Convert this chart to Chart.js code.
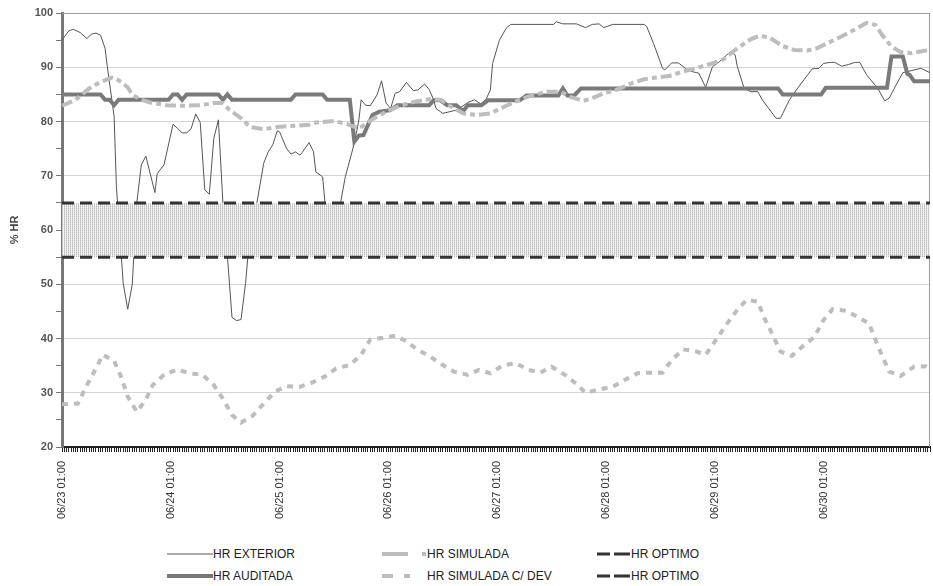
<!DOCTYPE html>
<html>
<head>
<meta charset="utf-8">
<title>% HR</title>
<script src="https://cdn.jsdelivr.net/npm/chart.js@4.4.1/dist/chart.umd.min.js"></script>
<style>
  body { margin: 0; background: #fff; font-family: "Liberation Sans", Arial, sans-serif; }
  #wrap { position: relative; width: 933px; height: 586px; }
  #box { position: absolute; left: 0; top: 0; width: 933px; height: 540px; }
  .key { position: absolute; font-size: 12px; line-height: 14px; color: #222; white-space: nowrap; }
  .key svg { position: absolute; left: 0; top: 4px; }
</style>
</head>
<body>
<div id="wrap">
  <div id="box"><canvas id="hr"></canvas></div>

  <div class="key" style="left:167px;top:547px">
    <svg width="46" height="6"><line x1="0" y1="3" x2="46" y2="3" stroke="#555" stroke-width="1"/></svg>
    <span style="padding-left:46px">HR EXTERIOR</span>
  </div>
  <div class="key" style="left:167px;top:569px">
    <svg width="46" height="6"><line x1="0" y1="3" x2="46" y2="3" stroke="#777" stroke-width="4"/></svg>
    <span style="padding-left:46px">HR AUDITADA</span>
  </div>
  <div class="key" style="left:382px;top:547px">
    <svg width="44" height="6"><line x1="0" y1="3" x2="44" y2="3" stroke="#bdbdbd" stroke-width="4" stroke-dasharray="26 14 4 0"/></svg>
    <span style="padding-left:45px">HR SIMULADA</span>
  </div>
  <div class="key" style="left:382px;top:569px">
    <svg width="44" height="6"><line x1="0" y1="3" x2="44" y2="3" stroke="#bdbdbd" stroke-width="4" stroke-dasharray="11 11 6 20"/></svg>
    <span style="padding-left:45px">HR SIMULADA C/ DEV</span>
  </div>
  <div class="key" style="left:597px;top:547px">
    <svg width="33" height="6"><line x1="0" y1="3" x2="33" y2="3" stroke="#333" stroke-width="3" stroke-dasharray="13 4 16 0"/></svg>
    <span style="padding-left:34px">HR OPTIMO</span>
  </div>
  <div class="key" style="left:597px;top:569px">
    <svg width="33" height="6"><line x1="0" y1="3" x2="33" y2="3" stroke="#333" stroke-width="3" stroke-dasharray="13 4 16 0"/></svg>
    <span style="padding-left:34px">HR OPTIMO</span>
  </div>
</div>

<script>
// days on the axis, readings every half hour starting at 01:00
const days = ['06/23', '06/24', '06/25', '06/26', '06/27', '06/28', '06/29', '06/30', '07/01'];
const stepsPerDay = 48;

// HR EXTERIOR  (half-hour slot, % HR)
const exteriorAt = [0, 3, 5, 8, 11, 13, 15, 17, 19, 20, 23, 24, 27, 29, 31, 33, 35, 37, 41, 42,
  45, 49, 51, 53, 55, 57, 59, 61, 63, 65, 67, 69, 71, 73, 75, 77, 79, 81, 82, 86,
  89, 91, 93, 95, 96, 99, 101, 103, 105, 106, 109, 111, 112, 115, 116, 119, 123, 125, 129, 131,
  132, 134, 136, 139, 141, 143, 145, 147, 149, 152, 155, 157, 160, 162, 164, 165, 168, 171, 174, 177,
  179, 182, 185, 187, 189, 190, 193, 196, 198, 217, 218, 221, 227, 231, 234, 237, 239, 243, 257, 258,
  261, 265, 266, 269, 272, 276, 278, 281, 284, 287, 290, 295, 297, 298, 301, 304, 307, 309, 314, 315,
  317, 321, 324, 329, 331, 334, 336, 339, 341, 344, 347, 350, 352, 355, 360, 363, 365, 368, 371, 375,
  379, 383];
const exteriorHR = [95.0, 96.7, 97.0, 96.4, 95.3, 96.1, 96.3, 95.9, 93.5, 90.1, 80.9, 68.0, 50.2, 45.4, 50.0, 65.0, 72.0, 73.6, 66.9, 70.4,
  72.0, 79.5, 78.7, 77.9, 77.9, 78.7, 81.4, 79.8, 67.4, 66.6, 76.9, 80.3, 65.0, 55.1, 43.9, 43.3, 43.5, 50.2, 55.0, 65.0,
  72.3, 74.4, 75.7, 78.3, 78.1, 75.1, 74.0, 74.4, 73.8, 74.3, 76.1, 74.4, 70.7, 69.8, 65.2, 58.0, 65.2, 69.8, 76.0, 80.3,
  84.0, 83.0, 82.9, 84.9, 87.5, 83.4, 82.4, 85.2, 85.5, 87.2, 85.7, 85.8, 86.9, 85.9, 84.0, 82.4, 81.5, 81.8, 82.1, 82.9,
  83.5, 84.0, 83.2, 84.0, 85.8, 90.7, 95.0, 97.2, 97.9, 97.9, 98.4, 98.0, 98.0, 97.3, 97.9, 98.0, 97.3, 97.9, 97.9, 97.5,
  94.4, 89.8, 89.5, 90.8, 90.8, 89.5, 89.2, 88.9, 86.3, 90.1, 91.0, 92.9, 92.3, 90.1, 86.1, 85.5, 85.5, 84.0, 81.2, 80.6,
  80.6, 84.0, 85.8, 88.6, 89.7, 89.8, 90.7, 90.9, 90.9, 90.2, 90.5, 90.9, 90.9, 88.6, 86.1, 83.8, 84.3, 86.7, 89.0, 89.4,
  89.8, 89.0];

// HR AUDITADA
const auditadaAt = [0, 17, 19, 21, 23, 25, 47, 49, 51, 53, 55, 69, 71, 73, 75, 101, 103, 115, 117, 127,
  129, 131, 133, 137, 140, 145, 148, 162, 164, 167, 170, 174, 177, 179, 185, 188, 202, 205, 219, 221,
  223, 226, 229, 316, 318, 335, 337, 364, 366, 371, 373, 374, 376, 383];
const auditadaHR = [85, 85, 84, 84, 83, 84, 84, 85, 85, 84, 85, 85, 84, 85, 84, 84, 85, 85, 84, 84,
  76.3, 77.4, 77.5, 81.2, 81.8, 82.1, 83.0, 83.0, 83.9, 83.9, 83.0, 83.0, 81.9, 83.0, 83.0, 83.9, 83.9, 84.8, 84.8, 86.1,
  84.8, 84.8, 86.1, 86.1, 85.0, 85.0, 86.2, 86.2, 92.0, 92.0, 88.8, 88.6, 87.4, 87.4];

// HR SIMULADA
const simuladaAt = [0, 6, 12, 17, 22, 25, 29, 31, 35, 39, 46, 54, 61, 67, 71, 74, 79, 83, 89, 95,
  102, 109, 112, 120, 126, 131, 137, 143, 149, 156, 162, 167, 173, 177, 183, 189, 196, 202, 208, 214,
  220, 224, 230, 234, 239, 245, 251, 257, 262, 268, 274, 282, 287, 292, 298, 304, 308, 312, 318, 323,
  329, 333, 339, 345, 351, 355, 359, 362, 366, 370, 375, 380, 383];
const simuladaHR = [82.9, 84.0, 86.1, 87.3, 88.1, 87.6, 86.3, 84.9, 84.0, 83.5, 83.0, 82.9, 83.0, 83.4, 83.4, 82.1, 80.6, 79.0, 78.6, 79.0,
  79.2, 79.4, 79.8, 80.1, 79.5, 78.7, 80.4, 81.8, 82.9, 83.7, 84.1, 84.0, 82.4, 81.5, 81.2, 81.5, 82.9, 84.0, 84.9, 85.5,
  85.5, 84.6, 83.8, 84.3, 85.2, 85.9, 87.0, 87.8, 88.1, 88.4, 89.2, 90.1, 90.7, 91.5, 93.5, 95.2, 95.8, 95.5, 93.9, 93.2,
  93.1, 93.5, 94.7, 95.9, 97.2, 98.2, 97.8, 95.9, 93.8, 92.8, 92.6, 93.0, 93.2];

// HR SIMULADA C/ DEV
const simDevAt = [0, 7, 11, 15, 18, 23, 26, 29, 33, 37, 40, 45, 51, 56, 62, 67, 71, 75, 79, 84,
  89, 94, 99, 105, 111, 116, 121, 127, 132, 136, 141, 147, 151, 157, 162, 168, 173, 179, 184, 189,
  194, 200, 206, 211, 216, 222, 227, 231, 237, 243, 248, 254, 259, 265, 269, 274, 280, 284, 289, 293,
  298, 302, 307, 310, 314, 317, 322, 327, 332, 336, 340, 346, 351, 356, 359, 362, 365, 370, 376, 381,
  383];
const simDevHR = [27.9, 28.0, 31.4, 34.5, 37.0, 35.9, 33.0, 29.3, 26.5, 28.7, 31.4, 33.3, 34.3, 33.6, 33.3, 31.4, 28.9, 25.9, 24.5, 25.7,
  28.0, 30.2, 31.2, 31.1, 32.0, 33.0, 34.5, 35.1, 37.0, 39.8, 40.1, 40.5, 39.7, 37.9, 36.8, 35.1, 33.9, 33.3, 34.2, 33.6,
  34.9, 35.5, 34.2, 33.7, 34.8, 33.3, 31.6, 30.0, 30.6, 31.1, 32.3, 33.6, 33.7, 33.7, 36.0, 38.0, 37.6, 37.0, 40.0, 42.5,
  45.3, 47.1, 46.8, 43.7, 40.3, 37.6, 36.8, 38.6, 40.3, 43.4, 45.4, 45.1, 44.0, 42.8, 39.7, 36.7, 33.9, 33.1, 34.8, 34.9,
  34.5];

// HR OPTIMO band limits
const optimoAt = [0, 383];
const optimoHigh = [65, 65];
const optimoLow = [55, 55];

// half-hour category labels, "06/23 01:00", "06/23 01:30", ...
const timeLabels = [];
for (let d = 0; d < days.length - 1; d++) {
  for (let s = 0; s < stepsPerDay; s++) {
    const mins = 60 + 30 * s;
    const m = mins % 1440;
    const hh = String(Math.floor(m / 60)).padStart(2, '0');
    const mm = String(m % 60).padStart(2, '0');
    timeLabels.push(days[d + Math.floor(mins / 1440)] + ' ' + hh + ':' + mm);
  }
}

function points(at, hr) {
  return at.map((slot, k) => ({ x: timeLabels[slot], y: hr[k] }));
}

// stippled fill for the optimum band (light columns of dots)
function stipple() {
  const c = document.createElement('canvas');
  c.width = 2; c.height = 2;
  const g = c.getContext('2d');
  g.fillStyle = '#f4f4f4'; g.fillRect(0, 0, 2, 2);
  g.fillStyle = '#bdbdbd'; g.fillRect(0, 0, 1, 1);
  g.fillStyle = '#d0d0d0'; g.fillRect(0, 1, 1, 1);
  return g.createPattern(c, 'repeat');
}

// thin grey frame on top and right of the plot
const frame = {
  id: 'frame',
  beforeDatasetsDraw(chart) {
    const { ctx, chartArea: a } = chart;
    ctx.save();
    ctx.strokeStyle = '#9a9a9a';
    ctx.lineWidth = 1;
    ctx.beginPath();
    ctx.moveTo(a.left, a.top + 0.5);
    ctx.lineTo(a.right - 0.5, a.top + 0.5);
    ctx.lineTo(a.right - 0.5, a.bottom);
    ctx.stroke();
    ctx.restore();
  }
};

const line = { pointRadius: 0, tension: 0, fill: false, borderCapStyle: 'butt' };

new Chart(document.getElementById('hr'), {
  type: 'line',
  data: {
    labels: timeLabels,
    datasets: [
      { ...line, label: 'HR EXTERIOR', data: points(exteriorAt, exteriorHR), borderColor: '#555', borderWidth: 1, order: 6 },
      { ...line, label: 'HR AUDITADA', data: points(auditadaAt, auditadaHR), borderColor: '#7a7a7a', borderWidth: 4, order: 5 },
      { ...line, label: 'HR SIMULADA', data: points(simuladaAt, simuladaHR), borderColor: '#bdbdbd', borderWidth: 4, borderDash: [11, 4, 5, 4], order: 4 },
      { ...line, label: 'HR SIMULADA C/ DEV', data: points(simDevAt, simDevHR), borderColor: '#bdbdbd', borderWidth: 4, borderDash: [6, 6], order: 3 },
      { ...line, label: 'HR OPTIMO', data: points(optimoAt, optimoHigh), borderColor: '#333', borderWidth: 3, borderDash: [12, 6],
        fill: { value: 55 }, backgroundColor: stipple(), order: 1 },
      { ...line, label: 'HR OPTIMO', data: points(optimoAt, optimoLow), borderColor: '#333', borderWidth: 3, borderDash: [12, 6], order: 0 }
    ]
  },
  options: {
    responsive: true,
    maintainAspectRatio: false,
    animation: false,
    events: [],
    layout: { padding: { top: 13, right: 3, left: 0, bottom: 0 } },
    font: { family: '"Liberation Sans", Arial, sans-serif' },
    plugins: { legend: { display: false }, tooltip: { enabled: false } },
    scales: {
      x: {
        type: 'category',
        offset: false,
        grid: { drawOnChartArea: false, drawTicks: true, tickLength: 5, color: '#222', offset: false },
        border: { color: '#222', width: 2 },
        ticks: {
          autoSkip: false, maxRotation: 90, minRotation: 90, padding: 9,
          color: '#333', font: { family: '"Liberation Sans", Arial, sans-serif', size: 11 },
          callback: function (v, i) { return i % stepsPerDay === 0 ? this.getLabelForValue(v) : ''; }
        },
        afterFit: s => { s.height = 93; s.paddingLeft = 0; s.paddingRight = 0; }
      },
      y: {
        min: 20, max: 100,
        grid: {
          color: c => (c.tick && c.tick.value % 10 === 0) ? '#d4d4d4' : 'rgba(0,0,0,0)',
          tickColor: '#777', tickLength: 6
        },
        border: { color: '#777', width: 3 },
        ticks: {
          stepSize: 5, padding: 3, color: '#555',
          font: { family: '"Liberation Sans", Arial, sans-serif', size: 11, weight: 'bold' },
          callback: v => v % 10 === 0 ? v : ''
        },
        title: {
          display: true, text: '% HR', color: '#444', padding: { top: 8, bottom: 0 },
          font: { family: '"Liberation Sans", Arial, sans-serif', size: 11, weight: 'bold' }
        },
        afterFit: s => { s.width = 62; }
      }
    }
  },
  plugins: [frame]
});
</script>
</body>
</html>
